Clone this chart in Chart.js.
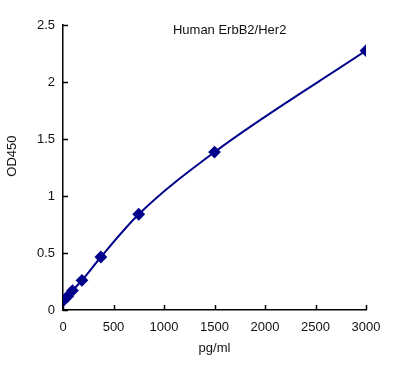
<!DOCTYPE html>
<html><head><meta charset="utf-8">
<script src="https://cdn.jsdelivr.net/npm/chart.js@4/dist/chart.umd.min.js"></script>
<style>html,body{margin:0;padding:0;background:#fff}#wrap{width:409px;height:371px}</style>
</head><body><div id="wrap"><canvas id="c" width="409" height="371"></canvas></div>
<script>
const concentrations = [0, 46.88, 93.75, 187.5, 375, 750, 1500, 3000];
const odValues = [0.08, 0.12, 0.17, 0.26, 0.465, 0.84, 1.385, 2.275];
const xTicks = [0, 500, 1000, 1500, 2000, 2500, 3000];
const yTicks = [0, 0.5, 1, 1.5, 2, 2.5];
const chartTitle = 'Human ErbB2/Her2';
const xLabel = 'pg/ml';
const yLabel = 'OD450';

const FONT = "'Liberation Sans', Arial, sans-serif";
const navy = '#00008B';

const innerTicks = {
  id: 'innerTicks',
  afterDraw(chart) {
    const ctx = chart.ctx, xs = chart.scales.x, ys = chart.scales.y;
    const a = chart.chartArea;
    ctx.save();
    ctx.strokeStyle = '#000';
    ctx.lineWidth = 1.5;
    ctx.beginPath();
    xTicks.forEach(v => { const px = Math.round(xs.getPixelForValue(v)) + 0.5; ctx.moveTo(px, a.bottom); ctx.lineTo(px, a.bottom - 5); });
    yTicks.forEach(v => { const py = Math.round(ys.getPixelForValue(v)) + 0.5; ctx.moveTo(a.left, py); ctx.lineTo(a.left + 5, py); });
    ctx.stroke();
    ctx.fillStyle = '#111';
    ctx.font = '13px ' + FONT;
    ctx.textAlign = 'center';
    ctx.textBaseline = 'middle';
    ctx.fillText(chartTitle, a.left + (a.right - a.left) * 0.55, a.top + 5);
    ctx.translate(12, a.top + (a.bottom - a.top) * 0.46);
    ctx.rotate(-Math.PI / 2);
    ctx.fillText(yLabel, 0, 0);
    ctx.restore();
  }
};

new Chart(document.getElementById('c'), {
  type: 'line',
  data: {
    datasets: [{
      data: concentrations.map((c, i) => ({x: c, y: odValues[i]})),
      borderColor: navy,
      backgroundColor: navy,
      borderWidth: 2,
      pointStyle: 'rectRot',
      pointRadius: 5,
      pointHoverRadius: 5,
      cubicInterpolationMode: 'monotone',
      fill: false
    }]
  },
  options: {
    responsive: false,
    animation: false,
    devicePixelRatio: 1,
    layout: {padding: {left: 0, right: 43, top: 25, bottom: 0}},
    plugins: {legend: {display: false}, tooltip: {enabled: false}},
    scales: {
      x: {
        type: 'linear', min: 0, max: 3000,
        afterBuildTicks: s => { s.ticks = xTicks.map(v => ({value: v})); },
        afterFit: s => { s.height = 61; },
        grid: {display: true, drawOnChartArea: false, drawTicks: false},
        border: {display: true, color: '#000', width: 1.5},
        ticks: {padding: 10, color: '#111', font: {family: FONT, size: 13}, maxRotation: 0, callback: v => String(v)},
        title: {display: true, text: xLabel, color: '#111', font: {family: FONT, size: 13}, padding: {top: 4, bottom: 15}}
      },
      y: {
        type: 'linear', min: 0, max: 2.5,
        afterBuildTicks: s => { s.ticks = yTicks.map(v => ({value: v})); },
        afterFit: s => { s.width = 63; },
        grid: {display: true, drawOnChartArea: false, drawTicks: false},
        border: {display: true, color: '#000', width: 1.5},
        ticks: {padding: 8, color: '#111', font: {family: FONT, size: 13}, callback: v => String(v)},
        title: {display: false, text: yLabel}
      }
    }
  },
  plugins: [innerTicks]
});
</script>
</body></html>
